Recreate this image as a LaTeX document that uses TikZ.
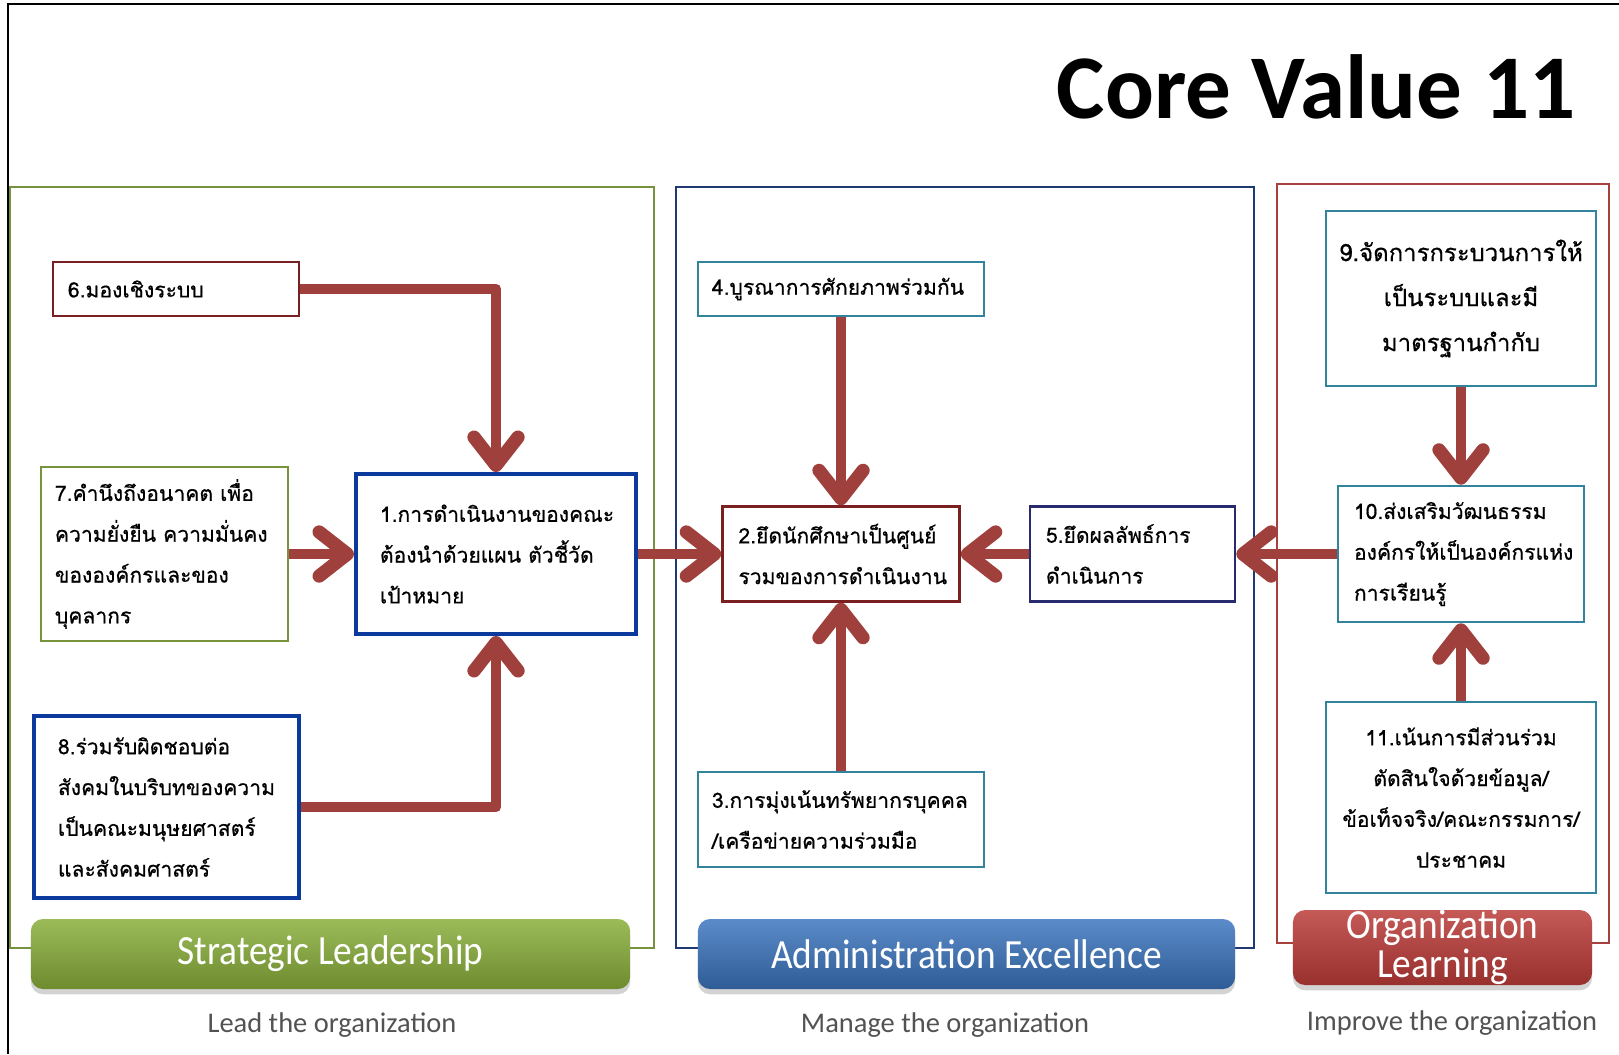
\documentclass[tikz,border=0pt]{standalone}
\usepackage{fontspec}
\setmainfont{Carlito}
\newfontfamily\thaifont[Script=Thai,FakeBold=0.6]{Loma}
\newfontfamily\bannerfont[FakeStretch=0.9]{Carlito}
\usetikzlibrary{arrows.meta,shadows}

\definecolor{frgreen}{HTML}{76923C}
\definecolor{frblue}{HTML}{1F3A73}
\definecolor{frred}{HTML}{A8403E}
\definecolor{bxred}{HTML}{7B2020}
\definecolor{bxgreen}{HTML}{77933C}
\definecolor{bxblue}{HTML}{0B3A9C}
\definecolor{bxteal}{HTML}{31849B}
\definecolor{bxnavy}{HTML}{2A2A6E}
\definecolor{arrowred}{HTML}{A0403C}
\definecolor{bngreentop}{HTML}{9BBB59}
\definecolor{bngreenbot}{HTML}{6E8B2E}
\definecolor{bnbluetop}{HTML}{5B8BC9}
\definecolor{bnbluebot}{HTML}{2E5C95}
\definecolor{bnredtop}{HTML}{C55A57}
\definecolor{bnredbot}{HTML}{98302E}

\tikzset{
  box/.style={draw, fill=white, line width=0.7pt, inner ysep=0pt,
    font=\thaifont\fontsize{6.0}{11.6}\selectfont, align=left},
  flow/.style={line width=3.1pt, draw=arrowred, line join=round,
    -{Straight Barb[length=8pt,width=12.5pt,line width=3.8pt,round]}},
  banner/.style={rounded corners=3.5pt, text=white, minimum height=0.70cm,
    font=\bannerfont\fontsize{11.8}{9.4}\selectfont, align=center,
    drop shadow={shadow xshift=0pt,shadow yshift=-1.5pt,opacity=0.35}},
  panel/.style={line width=0.7pt},
  motto/.style={anchor=base, text=black!68, font=\fontsize{8.1}{10}\selectfont}
}

\begin{document}
\begin{tikzpicture}[x=0.01cm,y=-0.01cm]
  \useasboundingbox (0,0) rectangle (1619,1054);
  \draw[line width=0.8pt] (1619,4) -- (8,4) -- (8,1054);
  \node[anchor=base east, font=\bfseries\fontsize{25.9}{30}\selectfont] (title) at (1588,118) {Core Value 11};

  % three columns
  \draw[panel, draw=frgreen] (10,187) rectangle (654,948);
  \draw[panel, draw=frblue] (676,187) rectangle (1254,948);
  \draw[panel, draw=frred] (1277,184) rectangle (1609,943);

  \node[banner, top color=bngreentop, bottom color=bngreenbot, minimum width=5.99cm] (sl) at (330.5,954) {Strategic Leadership};
  \node[banner, top color=bnbluetop, bottom color=bnbluebot, minimum width=5.37cm] (ae) at (966.5,954) {Administration Excellence};
  \node[banner, top color=bnredtop, bottom color=bnredbot, minimum width=2.99cm, inner ysep=0pt,
    font=\bannerfont\fontsize{11.8}{9.2}\selectfont] (ol) at (1442.5,947.5) {Organization\\Learning};

  \node[motto] (slsub) at (332,1032) {Lead the organization};
  \node[motto] (aesub) at (945,1032) {Manage the organization};
  \node[motto] (olsub) at (1452,1030) {Improve the organization};

  % boxes
  \node[box, draw=bxred, text width=2.16cm, inner xsep=0.15cm, minimum height=0.54cm] (b6) at (176,289) {6.มองเชิงระบบ};
  \node[box, draw=bxgreen, text width=2.19cm, inner xsep=0.14cm, minimum height=1.74cm] (b7) at (164.5,554) {7.คำนึงถึงอนาคต~เพื่อ\\ความยั่งยืน~ความมั่นคง\\ขององค์กรและของ\\บุคลากร};
  \node[box, draw=bxblue, line width=1.1pt, text width=2.32cm, inner xsep=0.24cm, minimum height=1.60cm] (b1) at (496,554) {1.การดำเนินงานของคณะ\\ต้องนำด้วยแผน~ตัวชี้วัด\\เป้าหมาย};
  \node[box, draw=bxblue, line width=1.1pt, text width=2.17cm, inner xsep=0.24cm, minimum height=1.82cm] (b8) at (166.5,807) {8.ร่วมรับผิดชอบต่อ\\สังคมในบริบทของความ\\เป็นคณะมนุษยศาสตร์\\และสังคมศาสตร์};
  \node[box, draw=bxteal, text width=2.58cm, inner xsep=0.14cm, minimum height=0.54cm] (b4) at (841,289) {4.บูรณาการศักยภาพร่วมกัน};
  \node[box, draw=bxred, text width=2.05cm, inner xsep=0.16cm, minimum height=0.95cm] (b2) at (841,554) {2.ยึดนักศึกษาเป็นศูนย์\\รวมของการดำเนินงาน};
  \node[box, draw=bxnavy, text width=1.73cm, inner xsep=0.16cm, minimum height=0.95cm] (b5) at (1132.5,554) {5.ยึดผลลัพธ์การ\\ดำเนินการ};
  \node[box, draw=bxteal, text width=2.58cm, inner xsep=0.14cm, minimum height=0.95cm] (b3) at (841,819.5) {3.การมุ่งเน้นทรัพยากรบุคคล\\/เครือข่ายความร่วมมือ};
  \node[box, draw=bxteal, text width=2.50cm, inner xsep=0.10cm, minimum height=1.75cm, align=center,
    font=\thaifont\fontsize{6.8}{12.8}\selectfont] (b9) at (1461,298.5) {9.จัดการกระบวนการให้\\เป็นระบบและมี\\มาตรฐานกำกับ};
  \node[box, draw=bxteal, text width=2.14cm, inner xsep=0.16cm, minimum height=1.36cm] (b10) at (1461,554) {10.ส่งเสริมวัฒนธรรม\\องค์กรให้เป็นองค์กรแห่ง\\การเรียนรู้};
  \node[box, draw=bxteal, text width=2.54cm, inner xsep=0.08cm, minimum height=1.91cm, align=center] (b11) at (1461,797.5) {11.เน้นการมีส่วนร่วม\\ตัดสินใจด้วยข้อมูล/\\ข้อเท็จจริง/คณะกรรมการ/\\ประชาคม};

  % arrows
  \draw[flow] (b6.east) -| (b1.north);
  \draw[flow] (b8.east) -| (b1.south);
  \foreach \src/\dst in {b7/b1,b1/b2,b4/b2,b3/b2,b5/b2,b9/b10,b11/b10,b10/b5}
    \draw[flow] (\src) -- (\dst);
\end{tikzpicture}
\end{document}
